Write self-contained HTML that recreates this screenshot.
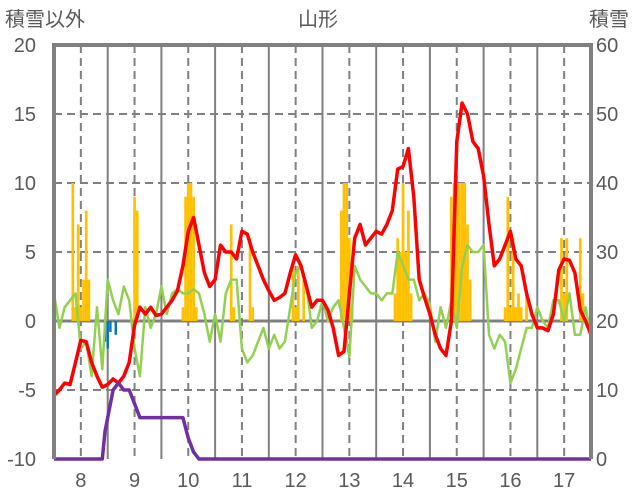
<!DOCTYPE html>
<html><head><meta charset="utf-8"><style>
body{margin:0;background:#fff;}
svg{display:block;font-family:"Liberation Sans","Noto Sans CJK JP",sans-serif;}
</style></head><body>
<svg id="chart" width="636" height="501" viewBox="0 0 636 501">
<text x="5" y="26" font-size="20" fill="#595959">積雪以外</text>
<text x="318" y="26" font-size="20" fill="#595959" text-anchor="middle">山形</text>
<text x="589" y="26" font-size="20" fill="#595959">積雪</text>
<g id="grid"></g><g id="bars"></g><g id="lines"></g><g id="frame"></g><g id="ticks"></g>
</svg>
<script>
const xTicks=[8,9,10,11,12,13,14,15,16,17];
const yTicksLeft=[20,15,10,5,0,-5,-10];
const yTicksRight=[60,50,40,30,20,10,0];
const redT0=7.5, step=0.1;
const redSeries=[-5.4,-5,-4.5,-4.6,-3,-1.4,-1.5,-3,-4,-4.8,-4.6,-4.2,-4.5,-4,-3,-0.3,1,0.5,1,0.4,0.5,1,1.5,2.2,4,6.5,7.5,5.5,3.5,2.5,3,5.5,5,5,4.5,6.5,6.3,5,4,3,2.2,1.5,1.7,2,3.5,4.8,4,2.5,1,1.5,1.5,0.8,-0.5,-2.5,-2.2,2,6,7,5.5,6,6.5,6.3,7,8,11,11.2,12.5,9,3,1.7,0.5,-1,-2,-2.5,0,13,15.8,15,13,12.5,10.5,7,4,4.5,5.5,6.5,4.5,4,2,0.5,-0.5,-0.5,-0.7,0.5,3.7,4.5,4.4,3.5,0.8,0,-1];
const greenSeries=[2,-0.5,1,1.5,2,-2,-1.5,-4,1,-3.5,3,1.5,0.5,2.5,1.5,-2,-4,1,-0.5,0.5,2.5,0.5,2,2.3,2,2,2.3,2,0.5,-1.5,0.5,-1.5,2,3,3,-2,-3,-2.5,-1.5,-0.5,-2,-1,-2,-1.5,1,3.5,4,2.5,-0.5,0,1.5,0,1,1.5,-0.5,-2.6,4,3,2.5,2,2,1.5,2,2,5,4,3,3,1.5,2,1.2,-1.5,1,-0.5,1.5,-0.5,4,5.5,5,5,5.5,-1,-2,-1,-1.5,-4.5,-3.5,-2,-0.5,-0.5,1,0,-0.5,1.5,1.5,0,2,-1,-1,1,-1];
const purpleT=[7.5,8.4,8.45,8.55,8.6,8.7,8.8,8.9,9.0,9.1,9.9,10.0,10.1,10.2,17.5];
const purpleVals=[-10,-10,-8,-6,-5,-4.5,-5,-5,-6,-7,-7,-8.5,-9.5,-10,-10];
const orangeT=[7.85,7.9,7.95,8.0,8.05,8.1,8.15,9.0,9.05,9.9,9.95,10.0,10.05,10.1,10.15,10.8,10.85,11.15,11.2,11.95,12.0,12.05,12.15,12.85,12.9,12.95,13.0,13.05,13.85,13.9,13.95,14.0,14.05,14.1,14.15,14.9,14.95,15.0,15.05,15.1,15.15,15.2,15.25,15.9,15.95,16.0,16.05,16.1,16.15,16.2,16.3,16.95,17.0,17.05,17.3,17.35];
const orangeVals=[10,1,7,1,3,8,3,9,8,1,9,10,10,9,1,7,1,6,1,4,1,4,3,8,10,10,6,1,2,6,5,10,5,8,2,9,10,10,10,10,10,7,3,1,9,1,6,1,2,1,2,6,2,6,6,2];
const blueT=[8.45,8.5,8.55,8.65];
const blueVals=[-1.5,-2,-0.8,-1];
const NS='http://www.w3.org/2000/svg';
const X0=54,X1=591,T0=7.5,T1=17.5,Y0=459,Y1=45;
const xs=t=>X0+(t-T0)/(T1-T0)*(X1-X0);
const ys=v=>Y0-(v+10)/30*(Y0-Y1);
function mk(tag,attrs,parent){const e=document.createElementNS(NS,tag);for(const k in attrs)e.setAttribute(k,attrs[k]);document.getElementById(parent).appendChild(e);return e;}
for(const v of yTicksLeft){if(v===20||v===-10||v===0)continue;
 const l=mk('line',{x1:X0,x2:X1,y1:ys(v),y2:ys(v),stroke:'#808080','stroke-width':2,'stroke-dasharray':'8,5'},'grid');
 
 }
for(const t of xTicks){
 const d=mk('line',{x1:xs(t),x2:xs(t),y1:Y1,y2:Y0,stroke:'#808080','stroke-width':2,'stroke-dasharray':'8,5'},'grid');
 
 
 if(t<17){const s=mk('line',{x1:xs(t+0.5),x2:xs(t+0.5),y1:Y1,y2:Y0,stroke:'#808080','stroke-width':2},'grid');
 
 }}
const bw=(X1-X0)/(T1-T0)*0.05;
orangeT.forEach((t,i)=>{const b=mk('rect',{x:xs(t)-bw/2,y:ys(orangeVals[i]),width:bw,height:ys(0)-ys(orangeVals[i]),fill:'#ffc000'},'bars');
 
 });
blueT.forEach((t,i)=>{const b=mk('rect',{x:xs(t)-1.2,y:ys(0),width:2.4,height:ys(blueVals[i])-ys(0),fill:'#0070c0'},'bars');
 
 });
const z=mk('line',{x1:X0,x2:X1,y1:ys(0),y2:ys(0),stroke:'#808080','stroke-width':3},'grid');


function path(ts,vals){return ts.map((t,i)=>(i?'L':'M')+xs(t).toFixed(1)+','+ys(vals[i]).toFixed(1)).join('');}
const tt=n=>Array.from({length:n},(_,i)=>redT0+i*step);
const g=mk('path',{d:path(tt(greenSeries.length),greenSeries),fill:'none',stroke:'#92d050','stroke-width':2.5,'stroke-linejoin':'round'},'lines');


const r=mk('path',{d:path(tt(redSeries.length),redSeries),fill:'none',stroke:'#ff0000','stroke-width':3.5,'stroke-linejoin':'round'},'lines');


const p=mk('path',{d:path(purpleT,purpleVals),fill:'none',stroke:'#7030a0','stroke-width':3.5,'stroke-linejoin':'round'},'lines');


const f=mk('path',{d:`M${X0},${Y0}V${Y1}H${X1}V${Y0}`,fill:'none',stroke:'#808080','stroke-width':4},'frame');


yTicksLeft.forEach(v=>{const t=mk('text',{x:36,y:ys(v)+7,'font-size':20,fill:'#595959','text-anchor':'end'},'ticks');t.textContent=v;
 
 });
yTicksRight.forEach(v=>{const t=mk('text',{x:596,y:Y0-v/60*(Y0-Y1)+7,'font-size':20,fill:'#595959'},'ticks');t.textContent=v;
 
 });
xTicks.forEach(v=>{const t=mk('text',{x:xs(v),y:487,'font-size':20,fill:'#595959','text-anchor':'middle'},'ticks');t.textContent=v;
 
 });
</script>
</body></html>
